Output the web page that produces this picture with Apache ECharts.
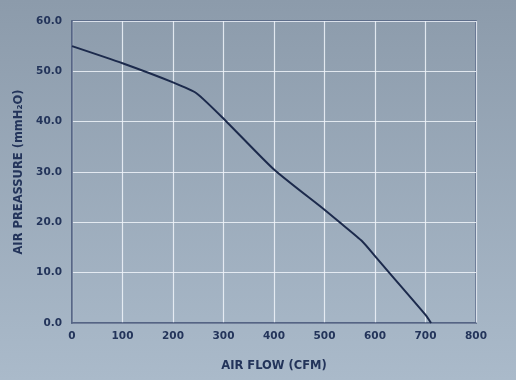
<!DOCTYPE html>
<html><head><meta charset="utf-8">
<script src="https://cdn.jsdelivr.net/npm/echarts@6/dist/echarts.min.js"></script>
<style>html,body{margin:0;padding:0;}#c{width:516px;height:380px;}</style>
</head><body><div id="c"></div>
<script>
const xFlow = [0, 100, 200, 247, 306, 400, 500, 530, 575, 600, 628, 700, 711];
const yPressure = [55.0, 51.6, 47.8, 45.6, 40.0, 30.5, 22.5, 20.0, 16.2, 13.3, 10.0, 1.6, 0.0];
const xTitle = 'AIR FLOW (CFM)';
const yTitle = 'AIR PREASSURE (mmH₂O)';

const chart = echarts.init(document.getElementById('c'));
const font = 'DejaVu Sans';
const textColor = '#23345a';
chart.setOption({
  backgroundColor: new echarts.graphic.LinearGradient(0, 0, 0, 1, [
    {offset: 0, color: '#8c9bab'}, {offset: 1, color: '#aabaca'}
  ]),
  grid: {left: 72, right: 40, top: 21, bottom: 57, show: true, borderColor: '#4f5f80', borderWidth: 1.5, backgroundColor: 'transparent'},
  xAxis: {
    type: 'value', min: 0, max: 800, interval: 100,
    name: xTitle, nameLocation: 'middle', nameGap: 37,
    nameTextStyle: {color: textColor, fontFamily: font, fontWeight: 'bold', fontSize: 11.5},
    axisLine: {show: true, lineStyle: {color: '#4f5f80', width: 1.5}},
    axisTick: {show: false},
    axisLabel: {color: textColor, fontFamily: font, fontWeight: 'bold', fontSize: 10.5, margin: 8},
    splitLine: {show: true, lineStyle: {color: 'rgba(240,244,250,0.85)', width: 1.2}}
  },
  yAxis: {
    type: 'value', min: 0, max: 60, interval: 10,
    name: yTitle, nameLocation: 'middle', nameGap: 46,
    nameTextStyle: {color: textColor, fontFamily: font, fontWeight: 'bold', fontSize: 11.5},
    axisLine: {show: true, lineStyle: {color: '#4f5f80', width: 1.5}},
    axisTick: {show: false},
    axisLabel: {color: textColor, fontFamily: font, fontWeight: 'bold', fontSize: 10.5, margin: 10, formatter: v => v.toFixed(1)},
    splitLine: {show: true, lineStyle: {color: 'rgba(240,244,250,0.85)', width: 1.2}}
  },
  series: [{
    type: 'line', data: xFlow.map((x, i) => [x, yPressure[i]]),
    smooth: 0.2, symbol: 'none',
    lineStyle: {color: '#1c2a4c', width: 2}
  }],
  animation: false
});
</script></body></html>
